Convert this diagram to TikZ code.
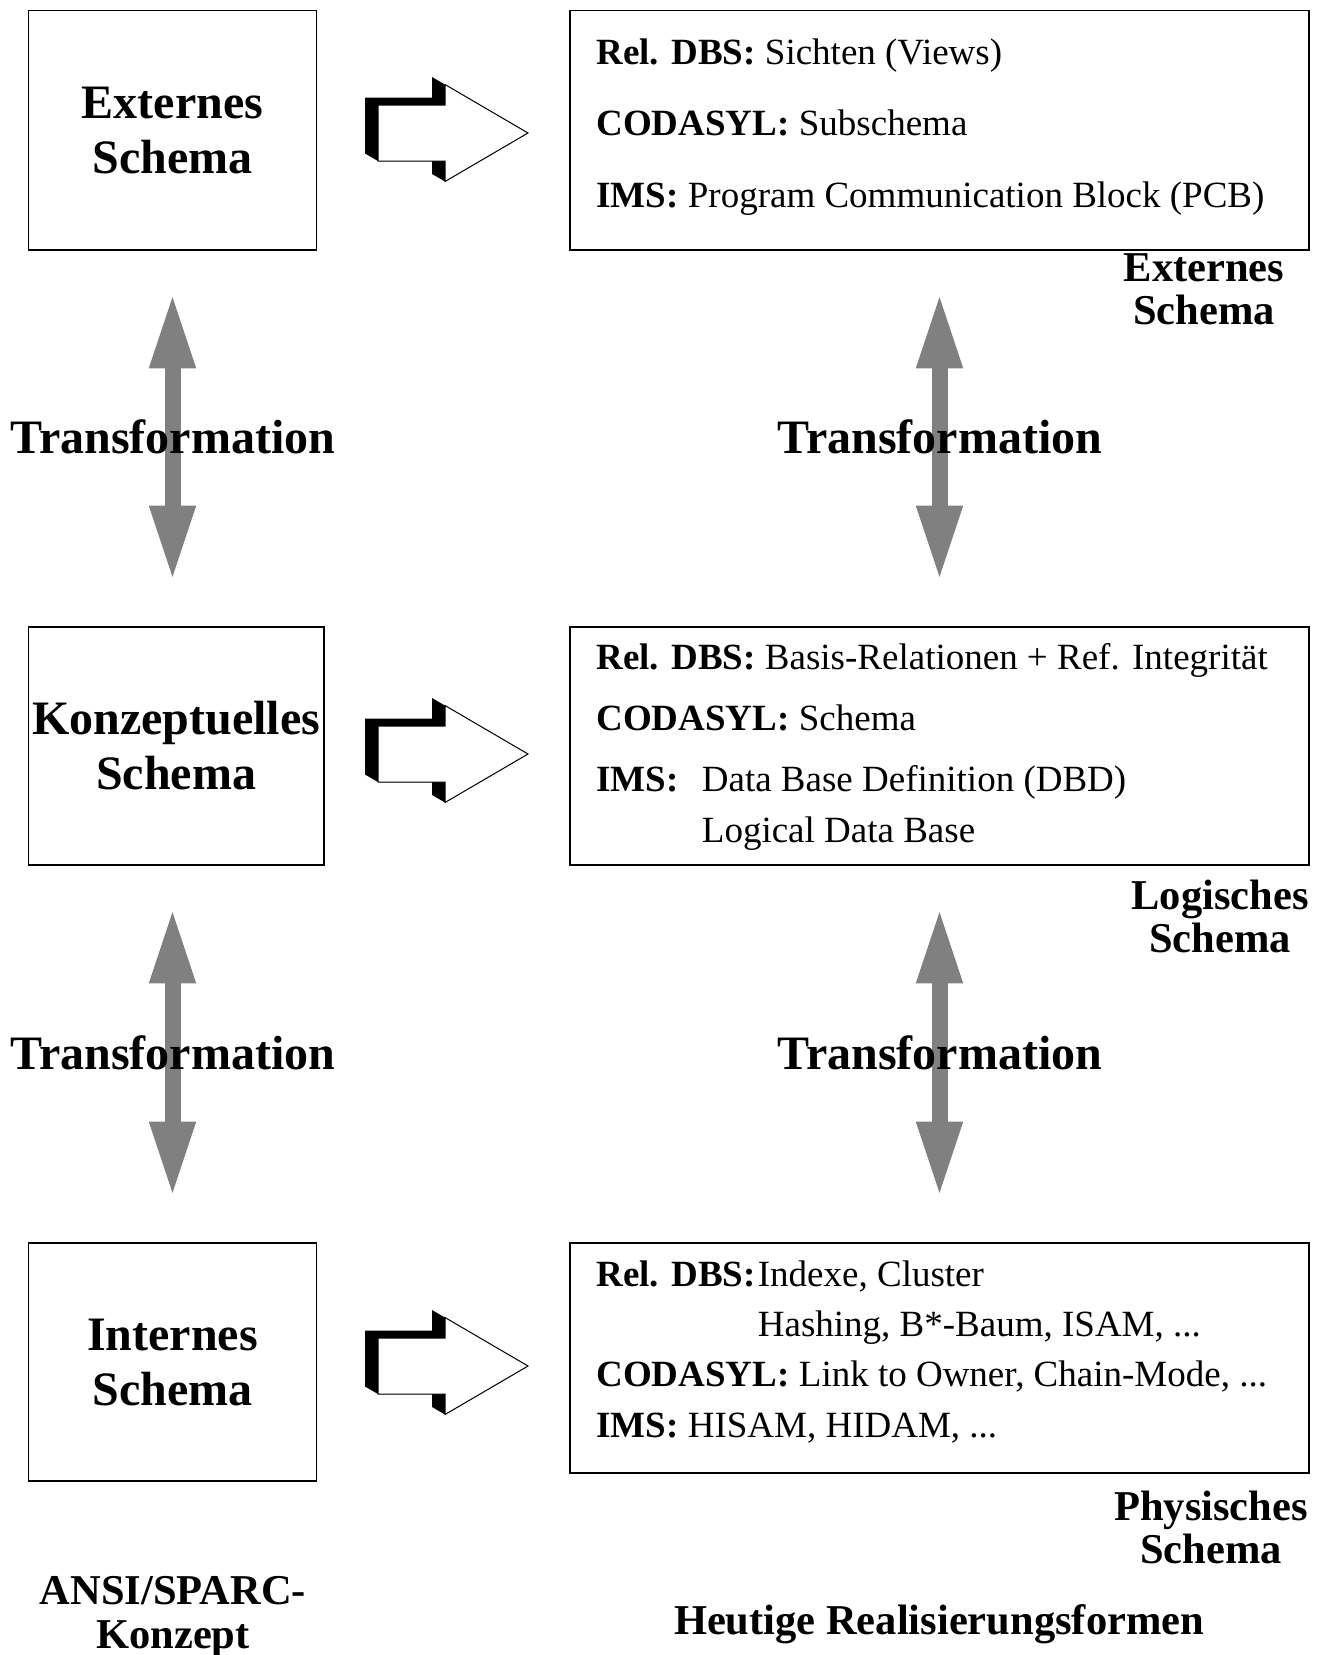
\documentclass[tikz,border=0pt]{standalone}
\usepackage{fontspec}
\setmainfont{Liberation Serif}
\usepackage{xcolor}
\usepackage{tikz}
\usetikzlibrary{arrows.meta,positioning}

\begin{document}
\begin{tikzpicture}[
    x=0.5pt, y=-0.5pt,
    box/.style={draw, line width=0.75pt, inner sep=0pt, align=center},
    leftbox/.style={box, font=\fontsize{24}{27.5}\selectfont\bfseries},
    entry/.style={anchor=west, inner sep=0pt, text height=12.2pt, text depth=0pt, font=\fontsize{18.5}{22}\selectfont},
    tag/.style={align=center, inner sep=0pt, font=\fontsize{21.25}{21.5}\selectfont\bfseries},
    trans/.style={inner sep=0pt, font=\fontsize{24}{28}\selectfont\bfseries},
    dblarrow/.style={{Triangle[length=38pt, width=21pt]}-{Triangle[length=38pt, width=21pt]}, line width=8pt, gray, shorten <=20.8pt, shorten >=22.3pt},
    bent/.style={fill=white, draw=black, line width=0.5pt}
  ]
    \useasboundingbox (0,0) rectangle (1322,1655);

    % ANSI/SPARC side
    \node[leftbox, minimum width=144pt, minimum height=119.75pt] (ext) at (172.5,130.25) {Externes\\Schema};
    \node[leftbox, minimum width=147.75pt, minimum height=119pt] (konz) at (176.25,746) {Konzeptuelles\\Schema};
    \node[leftbox, minimum width=144pt, minimum height=119pt] (int) at (172.5,1362) {Internes\\Schema};

    % today's forms
    \node[box, minimum width=369.5pt, minimum height=119.75pt] (rext) at (939.5,130.25) {};
    \node[box, minimum width=369.5pt, minimum height=119pt] (rlog) at (939.5,746) {};
    \node[box, minimum width=369.5pt, minimum height=115pt] (rphys) at (939.5,1358) {};

    \node[entry] (r1a) at (596,52) {\textbf{Rel. DBS:} Sichten (Views)};
    \node[entry] (r1b) at (596,123.5) {\textbf{CODASYL:} Subschema};
    \node[entry] (r1c) at (596,195) {\textbf{IMS:} Program Communication Block (PCB)};

    \node[entry] (r2a) at (596,657) {\textbf{Rel. DBS:} Basis-Relationen + Ref. Integrität};
    \node[entry] (r2b) at (596,718.5) {\textbf{CODASYL:} Schema};
    \node[entry] (r2c) at (596,779.5) {\makebox[52.75pt][l]{\textbf{IMS:}}Data Base Definition (DBD)};
    \node[entry] (r2d) at (701.5,830) {Logical Data Base};

    \node[entry] (r3a) at (596,1274) {\makebox[80.75pt][l]{\textbf{Rel. DBS:}}Indexe, Cluster};
    \node[entry] (r3b) at (757.5,1324) {Hashing, B*-Baum, ISAM, ...};
    \node[entry] (r3c) at (596,1374.5) {\textbf{CODASYL:} Link to Owner, Chain-Mode, ...};
    \node[entry] (r3d) at (596,1425) {\textbf{IMS:} HISAM, HIDAM, ...};

    % bent arrows
    \foreach \ty in {133,754,1366} {
      \fill[shift={(528,\ty)}] (-163,-35.5) -- (-96,-35.5) -- (-96,-56) -- (0,0) -- (-83,48.5) -- (-96,41) -- (-96,28) -- (-150,28) -- (-163,20.5) -- cycle;
      \filldraw[bent, shift={(528,\ty)}] (-150,-28) -- (-83,-28) -- (-83,-48.5) -- (0,0) -- (-83,48.5) -- (-83,28) -- (-150,28) -- cycle;
    }

    \draw[dblarrow] (ext.south) -- (ext.south |- konz.north);
    \draw[dblarrow] (ext.south |- konz.south) -- (int.north);
    \draw[dblarrow] (rext.south) -- (rlog.north);
    \draw[dblarrow] (rlog.south) -- (rphys.north);

    \node[trans] (t1) at (173,437) {Transformation};
    \node[trans] (t2) at (940,437) {Transformation};
    \node[trans] (t3) at (173,1053) {Transformation};
    \node[trans] (t4) at (940,1053) {Transformation};

    \node[tag] (lext) at (1204,289.5) {Externes\\Schema};
    \node[tag] (llog) at (1220,916.5) {Logisches\\Schema};
    \node[tag] (lphys) at (1211,1527) {Physisches\\Schema};
    \node[tag, font=\fontsize{21.25}{22}\selectfont\bfseries] (ansi) at (173,1617) {ANSI/SPARC-\\Konzept};
    \node[tag] (heute) at (939,1624.5) {Heutige Realisierungsformen};
\end{tikzpicture}
\end{document}
